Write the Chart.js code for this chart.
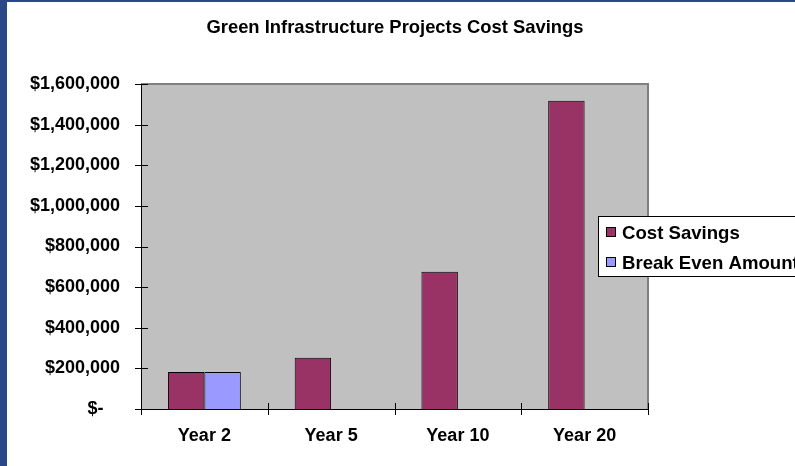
<!DOCTYPE html>
<html>
<head>
<meta charset="utf-8">
<script src="https://cdn.jsdelivr.net/npm/chart.js@4/dist/chart.umd.min.js"></script>
<style>
  html, body { margin: 0; padding: 0; }
  body { width: 795px; height: 466px; background: #2a4787; position: relative; overflow: hidden; }
  #marco { position: absolute; left: 7px; top: 2px; width: 788px; height: 464px; background: #ffffff; }
  #grafico { display: block; }
</style>
</head>
<body>
<div id="marco"><canvas id="grafico" width="788" height="464"></canvas></div>
<script>
// Datos del grafico
const titulo = 'Green Infrastructure Projects Cost Savings';
const categorias = ['Year 2', 'Year 5', 'Year 10', 'Year 20'];
const ahorro = [182000, 252000, 676000, 1518000];
const equilibrio = [182000, null, null, null];
const nombresSeries = ['Cost Savings', 'Break Even Amount'];
const coloresSeries = ['#993366', '#9999ff'];
const ejeMax = 1600000;
const ejePaso = 200000;

const fuente = '"Liberation Sans", Arial, sans-serif';

function formatoDolar(v) {
  if (v === 0) return '$-   \u200a';
  return '$' + v.toLocaleString('en-US');
}

// Fondo gris, ejes, marcas, titulo y leyenda
const dibujoExcel = {
  id: 'dibujoExcel',
  beforeDatasetsDraw(chart) {
    const { ctx, chartArea: a } = chart;
    ctx.save();
    ctx.fillStyle = '#c0c0c0';
    ctx.fillRect(a.left, a.top, a.right - a.left, a.bottom - a.top);
    ctx.restore();
  },
  afterDatasetsDraw(chart) {
    const { ctx, chartArea: a, scales } = chart;
    ctx.save();
    // borde gris arriba y derecha
    ctx.strokeStyle = '#808080';
    ctx.lineWidth = 2;
    ctx.beginPath();
    ctx.moveTo(a.left, a.top);
    ctx.lineTo(a.right, a.top);
    ctx.lineTo(a.right, a.bottom);
    ctx.stroke();
    // ejes negros
    ctx.strokeStyle = '#000000';
    ctx.lineWidth = 1;
    ctx.beginPath();
    ctx.moveTo(a.left + 0.5, a.top);
    ctx.lineTo(a.left + 0.5, a.bottom + 0.5);
    ctx.lineTo(a.right, a.bottom + 0.5);
    ctx.stroke();
    // marcas del eje Y
    const y = scales.y;
    ctx.beginPath();
    y.ticks.forEach(t => {
      const py = Math.round(y.getPixelForValue(t.value)) + 0.5;
      ctx.moveTo(a.left - 6, py);
      ctx.lineTo(a.left + 7, py);
    });
    // marcas del eje X entre categorias
    const x = scales.x;
    const ancho = (x.right - x.left) / categorias.length;
    for (let i = 0; i <= categorias.length; i++) {
      const px = Math.round(x.left + ancho * i) + 0.5;
      ctx.moveTo(px, a.bottom - 6);
      ctx.lineTo(px, a.bottom + 6);
    }
    ctx.stroke();
    ctx.restore();
  },
  afterDraw(chart) {
    const { ctx } = chart;
    ctx.save();
    // titulo
    ctx.fillStyle = '#000000';
    ctx.font = 'bold 18.4px ' + fuente;
    ctx.textAlign = 'center';
    ctx.textBaseline = 'middle';
    ctx.fillText(titulo, 388, 26);
    // leyenda
    ctx.fillStyle = '#ffffff';
    ctx.fillRect(591.5, 214.5, 220, 60);
    ctx.strokeStyle = '#000000';
    ctx.lineWidth = 1;
    ctx.strokeRect(591.5, 214.5, 220, 60);
    ctx.font = 'bold 18.6px ' + fuente;
    ctx.textAlign = 'left';
    nombresSeries.forEach((nombre, i) => {
      const cy = 231 + i * 30;
      ctx.fillStyle = coloresSeries[i];
      ctx.fillRect(599.5, cy - 5.5, 9, 9);
      ctx.strokeStyle = '#000000';
      ctx.strokeRect(599.5, cy - 5.5, 9, 9);
      ctx.fillStyle = '#000000';
      ctx.fillText(nombre, 615, cy + 1);
    });
    ctx.restore();
  }
};

new Chart(document.getElementById('grafico'), {
  type: 'bar',
  data: {
    labels: categorias,
    datasets: [
      {
        label: nombresSeries[0],
        data: ahorro,
        backgroundColor: coloresSeries[0],
        borderColor: '#000000',
        borderWidth: 1
      },
      {
        label: nombresSeries[1],
        data: equilibrio,
        backgroundColor: coloresSeries[1],
        borderColor: '#000000',
        borderWidth: 1
      }
    ]
  },
  options: {
    responsive: false,
    animation: false,
    devicePixelRatio: 1,
    datasets: {
      bar: { categoryPercentage: 0.575, barPercentage: 1 }
    },
    layout: {
      padding: { top: 82, right: 147, left: 0, bottom: 0 }
    },
    plugins: {
      legend: { display: false },
      title: { display: false },
      tooltip: { enabled: false }
    },
    scales: {
      x: {
        grid: { display: false, drawTicks: false },
        border: { display: false },
        ticks: {
          color: '#000000',
          padding: 16,
          font: { family: fuente, size: 18, weight: 'bold' }
        },
        afterFit(scale) { scale.height = 57; }
      },
      y: {
        min: 0,
        max: ejeMax,
        grid: { display: false, drawTicks: false },
        border: { display: false },
        ticks: {
          stepSize: ejePaso,
          color: '#000000',
          padding: 21,
          font: { family: fuente, size: 18, weight: 'bold' },
          callback: v => formatoDolar(v)
        },
        afterFit(scale) { scale.width = 134; }
      }
    }
  },
  plugins: [dibujoExcel]
});
</script>
</body>
</html>
